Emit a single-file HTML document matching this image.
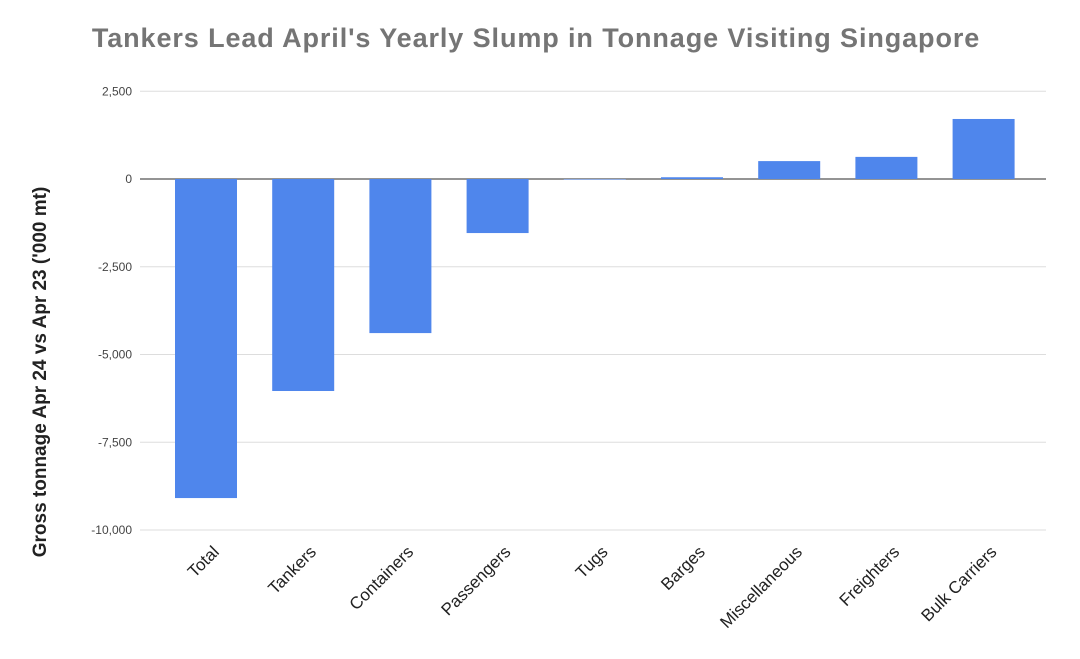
<!DOCTYPE html>
<html><head><meta charset="utf-8"><style>
body{margin:0;background:#fff;}
svg{display:block;font-family:"Liberation Sans",Arial,sans-serif;}
</style></head><body>
<svg id="chart" width="1080" height="659">
<text x="536" y="47" text-anchor="middle" font-size="27" letter-spacing="0.9" font-weight="bold" fill="#757575">Tankers Lead April's Yearly Slump in Tonnage Visiting Singapore</text>
<text transform="translate(46,372) rotate(-90)" text-anchor="middle" font-size="19" font-weight="bold" fill="#222">Gross tonnage Apr 24 vs Apr 23 ('000 mt)</text>
<g id="grid"></g><g id="bars"></g><g id="xlabels"></g>
</svg>
<script>
const categories=["Total","Tankers","Containers","Passengers","Tugs","Barges","Miscellaneous","Freighters","Bulk Carriers"];
const values=[-9090,-6040,-4390,-1540,0,50,510,630,1710];
const ticks=[2500,0,-2500,-5000,-7500,-10000];
const tickLabels=["2,500","0","-2,500","-5,000","-7,500","-10,000"];
const NS="http://www.w3.org/2000/svg";
const y=v=>179-v*0.03510;
const x=i=>206+i*97.2;
function mk(t,a,p){const e=document.createElementNS(NS,t);for(const k in a)e.setAttribute(k,a[k]);p.appendChild(e);return e;}
const grid=document.getElementById('grid'),bars=document.getElementById('bars'),xl=document.getElementById('xlabels');
ticks.forEach((t,i)=>{
 const l=mk('line',{x1:140,x2:1046,y1:y(t),y2:y(t),stroke:t===0?'#555':'#ddd','stroke-width':t===0?1.2:1},grid);
 
 
 const tx=mk('text',{x:132,y:y(t)+4,'text-anchor':'end','font-size':12,fill:'#444'},grid);
 tx.textContent=tickLabels[i];
 
 
});
values.forEach((v,i)=>{
 const top=Math.min(y(v),y(0)),h=Math.abs(y(v)-y(0));
 const r=mk('rect',{x:x(i)-31,y:top,width:62,height:Math.max(h,0.5),fill:'#4f86ec'},bars);
 
 
 const t=mk('text',{transform:`translate(${x(i)+14},${553}) rotate(-45)`,'text-anchor':'end','font-size':17,fill:'#222'},xl);
 t.textContent=categories[i];
 
 
});
</script>
</body></html>
